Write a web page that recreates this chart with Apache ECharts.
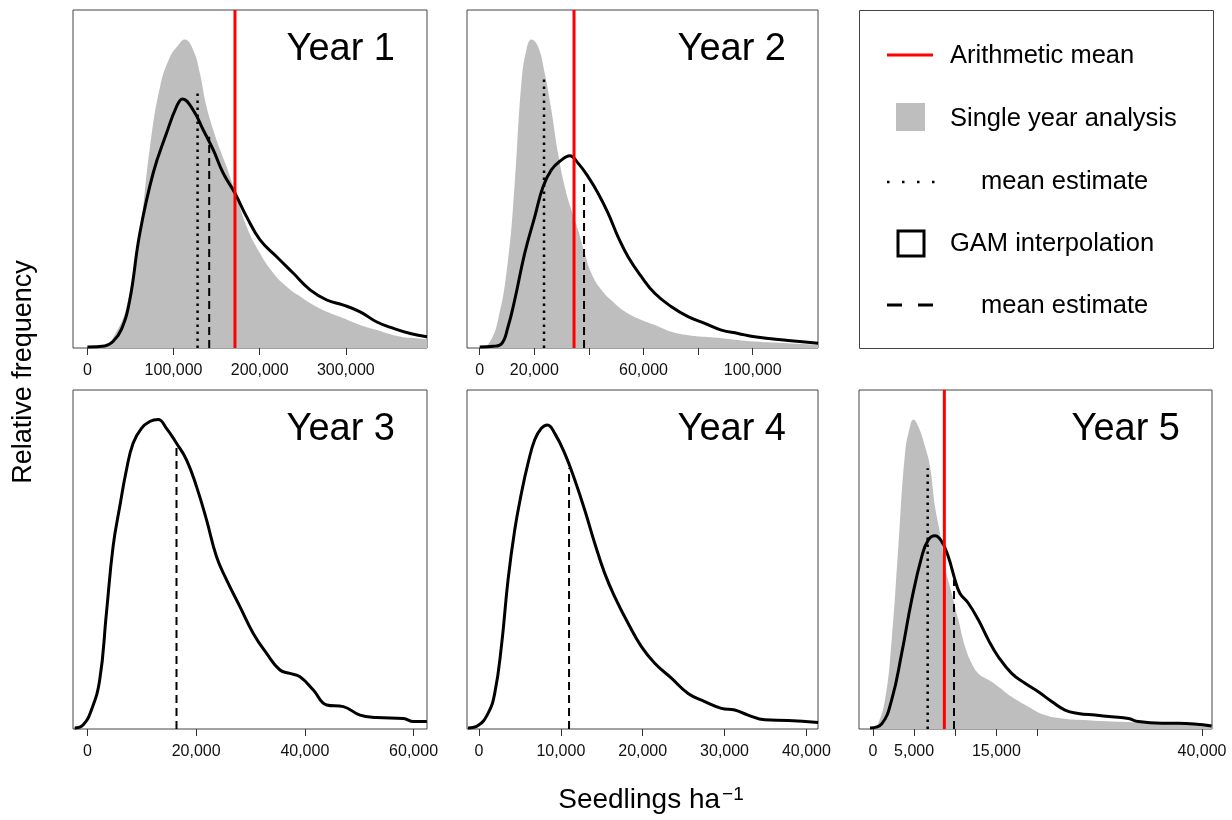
<!DOCTYPE html>
<html><head><meta charset="utf-8">
<script src="https://cdn.jsdelivr.net/npm/echarts@6/dist/echarts.min.js"></script>
<style>html,body{margin:0;padding:0;background:#fff}#c{width:1232px;height:820px}</style>
</head><body><div id="c"></div>
<script>
// ---------- DATA ----------
const panelTitles = ['Year 1', 'Year 2', 'Year 3', 'Year 4', 'Year 5'];
const xAxisTitle = 'Seedlings ha';
const yAxisTitle = 'Relative frequency';
const legendLabels = ['Arithmetic mean', 'Single year analysis', 'mean estimate', 'GAM interpolation', 'mean estimate'];

// axis extents (seedlings per ha)
const xMin = [-16700, -4650, -2650, -1466, -1704];
const xMax = [394200, 123900, 62470, 41417, 41217];
// tick positions and labelled ticks
const ticks1 = [0, 100000, 200000, 300000];
const labels1 = [0, 100000, 200000, 300000];
const ticks2 = [0, 20000, 40000, 60000, 80000, 100000];
const labels2 = [0, 20000, 60000, 100000];
const ticks3 = [0, 20000, 40000, 60000];
const labels3 = [0, 20000, 40000, 60000];
const ticks4 = [0, 10000, 20000, 30000, 40000];
const labels4 = [0, 10000, 20000, 30000, 40000];
const ticks5 = [0, 5000, 10000, 15000, 20000, 40000];
const labels5 = [0, 5000, 15000, 40000];

// single year analysis densities (relative frequency)
const year1Single = [[0,0],[22000,0.01],[29800,0.03],[45300,0.12],[60800,0.34],[72400,0.59],[84100,0.77],[95700,0.86],[105400,0.896],[113100,0.913],[122800,0.882],[130600,0.813],[138300,0.714],[150000,0.615],[161600,0.536],[173200,0.448],[184900,0.359],[200400,0.28],[215900,0.221],[231400,0.181],[246900,0.152],[262400,0.127],[277900,0.107],[297300,0.088],[316600,0.068],[336000,0.053],[355400,0.038],[374800,0.03],[394200,0.026]];
const year2Single = [[0,0],[3050,0.01],[6710,0.083],[10380,0.26],[12820,0.487],[15260,0.783],[17090,0.882],[18930,0.913],[21370,0.892],[23810,0.813],[26250,0.704],[28690,0.576],[31140,0.477],[33580,0.408],[36020,0.349],[38460,0.28],[40900,0.221],[44570,0.172],[49450,0.132],[54330,0.102],[59220,0.083],[64100,0.068],[70210,0.048],[76310,0.038],[82420,0.033],[88520,0.029],[100730,0.019],[112940,0.014],[123930,0.009]];
const year5Single = [[0,0],[446,0.005],[1459,0.086],[2270,0.263],[3080,0.538],[3890,0.813],[4500,0.892],[4904,0.913],[5511,0.892],[6322,0.833],[6930,0.774],[7538,0.656],[8146,0.577],[8754,0.479],[9565,0.4],[10375,0.322],[11185,0.243],[11996,0.194],[12806,0.164],[14022,0.145],[15238,0.125],[16859,0.095],[18885,0.066],[20912,0.041],[22938,0.031],[24964,0.027],[29017,0.022],[33070,0.019],[37122,0.017],[41175,0.015]];

// GAM interpolation densities
const year1Gam = [[0,0.003],[20000,0.006],[30000,0.02],[39500,0.055],[49200,0.142],[60800,0.339],[76300,0.517],[91800,0.635],[103500,0.714],[110400,0.737],[122800,0.704],[134500,0.645],[146100,0.586],[157700,0.517],[171300,0.458],[184900,0.388],[200400,0.32],[219700,0.27],[239100,0.221],[258500,0.172],[277900,0.142],[297300,0.127],[316600,0.107],[336000,0.077],[355400,0.058],[374800,0.043],[394200,0.033]];
const year2Gam = [[0,0.003],[5000,0.005],[7940,0.012],[10380,0.063],[12820,0.142],[16480,0.28],[20150,0.388],[23200,0.477],[26250,0.527],[29910,0.556],[32970,0.569],[36020,0.547],[39680,0.507],[43350,0.458],[47010,0.399],[50670,0.329],[54330,0.27],[59220,0.211],[64100,0.162],[70210,0.122],[76310,0.093],[82420,0.073],[88520,0.053],[94630,0.043],[100730,0.033],[112940,0.022],[123930,0.014]];
const year3Gam = [[-2340,0.003],[-805,0.012],[731,0.056],[2266,0.145],[3494,0.341],[4722,0.538],[5950,0.656],[7178,0.764],[8406,0.843],[9941,0.887],[11476,0.907],[13010,0.913],[14545,0.887],[16388,0.843],[18230,0.794],[20072,0.715],[21914,0.617],[23757,0.508],[25599,0.44],[28054,0.361],[30510,0.282],[32966,0.223],[35422,0.174],[37264,0.164],[39106,0.154],[41562,0.115],[44018,0.071],[47088,0.066],[50158,0.041],[53228,0.034],[58139,0.031],[59981,0.022],[62439,0.022]];
const year4Gam = [[-1340,0.003],[-118,0.01],[1104,0.046],[1919,0.105],[2733,0.243],[3548,0.44],[4363,0.587],[5177,0.695],[5992,0.784],[6807,0.853],[7621,0.887],[8355,0.897],[9251,0.872],[10473,0.813],[11695,0.735],[12917,0.646],[14139,0.548],[15361,0.459],[16583,0.39],[18212,0.312],[19842,0.243],[21471,0.194],[23508,0.15],[25544,0.105],[27581,0.081],[29618,0.061],[31247,0.056],[32875,0.041],[34912,0.027],[37764,0.025],[41430,0.019]];
const year5Gam = [[-365,0.003],[1054,0.015],[2270,0.086],[3485,0.223],[4701,0.381],[5917,0.508],[6727,0.558],[7538,0.57],[8349,0.553],[9159,0.508],[9970,0.44],[10577,0.4],[11590,0.371],[12806,0.322],[14022,0.263],[15238,0.213],[16859,0.164],[18480,0.135],[20101,0.11],[21722,0.081],[23343,0.056],[24964,0.046],[26991,0.041],[29017,0.036],[31043,0.031],[32259,0.022],[35097,0.017],[37122,0.017],[41175,0.009]];

// mean values: [x, height of line top]; null = not drawn
const arithmeticMean = [171300, 34550, null, null, 8673];
const singleMean = [[127900, 0.765], [23560, 0.795], null, null, [6646, 0.769]];
const gamMean = [[141400, 0.625], [38220, 0.5], [16388, 0.843], [11002, 0.769], [9848, 0.44]];

// ---------- CHART ----------
const FONT = '"Liberation Sans", Arial, sans-serif';
const grids = [
  {left: 73, top: 10, width: 354, height: 338},
  {left: 467, top: 10, width: 351, height: 338},
  {left: 73, top: 390, width: 354, height: 339},
  {left: 467, top: 390, width: 351, height: 339},
  {left: 859, top: 390, width: 353, height: 339}
];
const tickSets = [ticks1, ticks2, ticks3, ticks4, ticks5];
const labelSets = [labels1, labels2, labels3, labels4, labels5];
const singleSets = [year1Single, year2Single, null, null, year5Single];
const gamSets = [year1Gam, year2Gam, year3Gam, year4Gam, year5Gam];

const option = {
  animation: false,
  backgroundColor: '#fff',
  grid: grids.map(g => Object.assign({show: true, borderColor: '#444', borderWidth: 1, containLabel: false}, g)),
  xAxis: grids.map((g, i) => ({
    gridIndex: i, type: 'value', min: xMin[i], max: xMax[i],
    axisLine: {show: false},
    splitLine: {show: false},
    axisTick: {show: true, length: 7, lineStyle: {color: '#333', width: 1}, customValues: tickSets[i]},
    axisLabel: {customValues: labelSets[i], formatter: v => Number(v).toLocaleString('en-US'),
      fontSize: 16, color: '#111', fontFamily: FONT, margin: 15}
  })),
  yAxis: grids.map((g, i) => ({gridIndex: i, type: 'value', min: 0, max: 1, show: false})),
  series: [],
  graphic: []
};

grids.forEach((g, i) => {
  if (singleSets[i]) {
    option.series.push({type: 'line', xAxisIndex: i, yAxisIndex: i, data: singleSets[i], smooth: 0.45,
      symbol: 'none', lineStyle: {width: 0}, areaStyle: {color: '#bebebe', opacity: 1}, z: 1, silent: true});
  }
  option.series.push({type: 'line', xAxisIndex: i, yAxisIndex: i, data: gamSets[i], smooth: 0.45,
    symbol: 'none', lineStyle: {color: '#000', width: 3}, z: 3, silent: true});
  if (singleMean[i]) {
    option.series.push({type: 'line', xAxisIndex: i, yAxisIndex: i,
      data: [[singleMean[i][0], 0], [singleMean[i][0], singleMean[i][1]]],
      symbol: 'none', lineStyle: {color: '#000', width: 2.5, type: [2.5, 4.5]}, z: 4, silent: true});
  }
  if (gamMean[i]) {
    option.series.push({type: 'line', xAxisIndex: i, yAxisIndex: i,
      data: [[gamMean[i][0], 0], [gamMean[i][0], gamMean[i][1]]],
      symbol: 'none', lineStyle: {color: '#000', width: 2, type: [8, 5]}, z: 4, silent: true});
  }
  if (arithmeticMean[i] !== null) {
    option.series.push({type: 'line', xAxisIndex: i, yAxisIndex: i,
      data: [[arithmeticMean[i], 0], [arithmeticMean[i], 1]],
      symbol: 'none', lineStyle: {color: '#ff0000', width: 3}, z: 5, silent: true});
  }
  option.graphic.push({type: 'text', x: g.left + g.width - 32, y: g.top + 40,
    style: {text: panelTitles[i], font: '38px ' + FONT, fill: '#000', textAlign: 'right', align: 'right',
      textVerticalAlign: 'middle', verticalAlign: 'middle'}});
});

// legend panel
const L = {left: 859, top: 10, width: 354, height: 338};
option.graphic.push({type: 'rect', shape: {x: L.left + 0.5, y: L.top + 0.5, width: L.width, height: L.height},
  style: {fill: 'none', stroke: '#444', lineWidth: 1}});
const legFont = '25.5px ' + FONT;
function legText(t, x, y) {
  return {type: 'text', x: x, y: y, style: {text: t, font: legFont, fill: '#000', textAlign: 'left', align: 'left',
    textVerticalAlign: 'middle', verticalAlign: 'middle'}};
}
option.graphic.push(
  {type: 'line', shape: {x1: 887, y1: 55, x2: 933, y2: 55}, style: {stroke: '#ff0000', lineWidth: 3}},
  legText(legendLabels[0], 950, 56),
  {type: 'rect', shape: {x: 896, y: 103, width: 29, height: 28}, style: {fill: '#bebebe'}},
  legText(legendLabels[1], 950, 119),
  {type: 'line', shape: {x1: 887, y1: 182, x2: 935, y2: 182}, style: {stroke: '#000', lineWidth: 2.5, lineDash: [2.5, 12.5]}},
  legText(legendLabels[2], 981, 182),
  {type: 'rect', shape: {x: 898, y: 231, width: 26, height: 25}, style: {fill: 'none', stroke: '#000', lineWidth: 3}},
  legText(legendLabels[3], 950, 244),
  {type: 'line', shape: {x1: 887, y1: 305, x2: 933, y2: 305}, style: {stroke: '#000', lineWidth: 3, lineDash: [15, 16]}},
  legText(legendLabels[4], 981, 306)
);

// axis titles
option.graphic.push(
  {type: 'text', x: 24, y: 372, rotation: Math.PI / 2,
    style: {text: yAxisTitle, font: '27px ' + FONT, fill: '#000', textAlign: 'center', align: 'center',
      textVerticalAlign: 'middle', verticalAlign: 'middle'}},
  {type: 'text', x: 651, y: 800,
    style: {text: xAxisTitle + '{sup|\u22121}', font: '28px ' + FONT, fill: '#000', textAlign: 'center', align: 'center',
      textVerticalAlign: 'middle', verticalAlign: 'middle',
      rich: {sup: {fontSize: 19, fontFamily: 'Liberation Sans', verticalAlign: 'top', padding: [0, 0, 10, 2]}}}}
);

const chart = echarts.init(document.getElementById('c'), null, {renderer: 'canvas'});
chart.setOption(option);
</script></body></html>
